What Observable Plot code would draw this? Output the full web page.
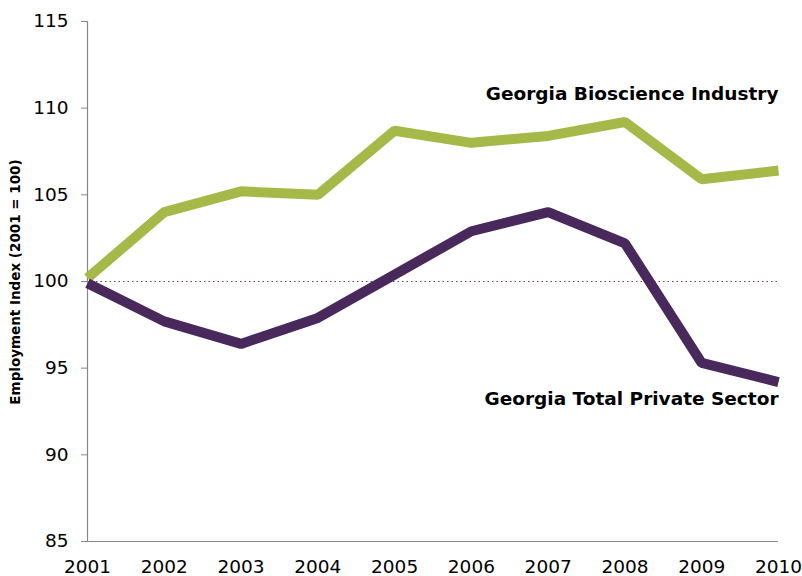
<!DOCTYPE html>
<html>
<head>
<meta charset="utf-8">
<script src="https://cdn.jsdelivr.net/npm/d3@7"></script>
<script src="https://cdn.jsdelivr.net/npm/@observablehq/plot@0.6"></script>
<style>
  html, body { margin: 0; padding: 0; background: #fff; }
  svg { display: block; }
</style>
</head>
<body>
<div id="chart"></div>
<script>
const years = [2001, 2002, 2003, 2004, 2005, 2006, 2007, 2008, 2009, 2010];
const bioscience = [100.2, 104.0, 105.2, 105.0, 108.7, 108.0, 108.4, 109.2, 105.9, 106.4];
const privateSector = [99.9, 97.7, 96.4, 97.9, 100.4, 102.9, 104.0, 102.2, 95.3, 94.2];
const yTicks = [85, 90, 95, 100, 105, 110, 115];
const seriesNames = ["Georgia Bioscience Industry", "Georgia Total Private Sector"];
const seriesColors = ["#a5b949", "#49295b"];

const data = [];
years.forEach((y, i) => {
  data.push({year: y, value: bioscience[i], series: seriesNames[0]});
  data.push({year: y, value: privateSector[i], series: seriesNames[1]});
});
const labels = [
  {year: 2010, value: 110.8, text: seriesNames[0]},
  {year: 2010, value: 93.2, text: seriesNames[1]}
];

const font = "Verdana, 'DejaVu Sans', sans-serif";
const chart = Plot.plot({
  width: 802,
  height: 576,
  marginLeft: 87,
  marginRight: 24,
  marginTop: 21,
  marginBottom: 35,
  style: {fontFamily: font, fontSize: "18px", color: "#000", background: "#fff"},
  x: {domain: [2001, 2010], ticks: years, tickFormat: d => String(d), label: null},
  y: {domain: [85, 115], ticks: yTicks, label: null},
  color: {domain: seriesNames, range: seriesColors},
  marks: [
    Plot.ruleY([100], {stroke: "#7a4040", strokeWidth: 1, strokeDasharray: "1.5,3"}),
    Plot.ruleX([2001], {stroke: "#888", strokeWidth: 1.2}),
    Plot.ruleY([85], {stroke: "#888", strokeWidth: 1.2}),
    Plot.axisY({ticks: yTicks, tickSize: 6, tickPadding: 13, stroke: "#888", fontSize: 18.5, label: null}),
    Plot.axisX({ticks: years, tickSize: 0, tickPadding: 18, tickFormat: d => String(d), fontSize: 18.5, label: null}),
    Plot.line(data, {x: "year", y: "value", z: "series", stroke: "series", strokeWidth: 10, strokeLinecap: "butt", strokeLinejoin: "miter"}),
    Plot.text(labels, {x: "year", y: "value", text: "text", textAnchor: "end", fontWeight: "bold", fontSize: 18.5, fill: "#000"})
  ]
});

const svg = d3.select(chart);
svg.append("text")
  .attr("transform", "translate(20,282) rotate(-90)")
  .attr("text-anchor", "middle")
  .attr("font-family", font)
  .attr("font-size", 13.5)
  .attr("font-weight", "bold")
  .attr("fill", "#000")
  .text("Employment Index (2001 = 100)");

document.getElementById("chart").appendChild(chart);
</script>
</body>
</html>
